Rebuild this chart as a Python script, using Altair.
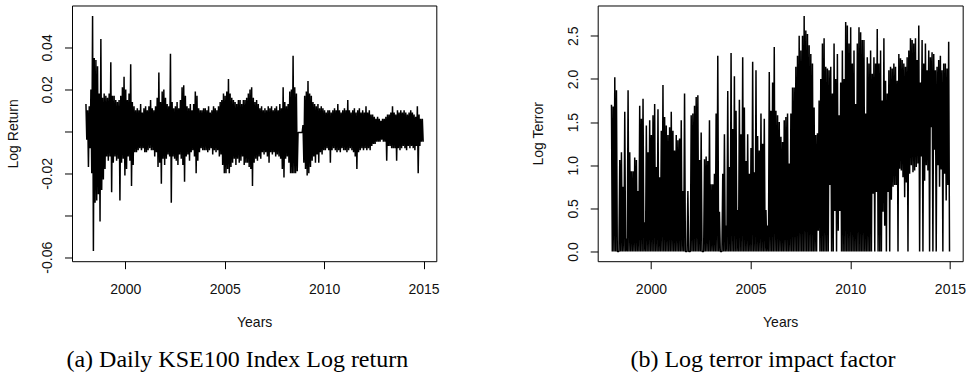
import altair as alt
import pandas as pd

# ---- Panel (a): daily KSE100 log return, monthly upper / lower extremes (1998-2014) ----
ret_hi = [
    0.013, 0.010, 0.012, 0.020, 0.055, 0.035, 0.034, 0.031, 0.018, 0.044, 0.016, 0.018,  # 1998
    0.017, 0.016, 0.018, 0.033, 0.017, 0.017, 0.015, 0.014, 0.015, 0.017, 0.021, 0.026,  # 1999
    0.020, 0.015, 0.018, 0.032, 0.014, 0.012, 0.010, 0.011, 0.010, 0.013, 0.009, 0.011,  # 2000
    0.012, 0.010, 0.012, 0.015, 0.011, 0.010, 0.012, 0.016, 0.028, 0.014, 0.019, 0.020,  # 2001
    0.016, 0.013, 0.012, 0.037, 0.014, 0.011, 0.012, 0.014, 0.011, 0.015, 0.021, 0.022,  # 2002
    0.017, 0.012, 0.011, 0.013, 0.010, 0.013, 0.019, 0.017, 0.011, 0.010, 0.010, 0.011,  # 2003
    0.011, 0.010, 0.012, 0.009, 0.010, 0.012, 0.011, 0.010, 0.012, 0.014, 0.015, 0.018,  # 2004
    0.017, 0.019, 0.025, 0.018, 0.016, 0.015, 0.014, 0.013, 0.015, 0.015, 0.013, 0.015,  # 2005
    0.015, 0.016, 0.018, 0.020, 0.021, 0.016, 0.014, 0.015, 0.013, 0.011, 0.012, 0.010,  # 2006
    0.011, 0.010, 0.012, 0.011, 0.012, 0.010, 0.011, 0.012, 0.010, 0.013, 0.011, 0.021,  # 2007
    0.014, 0.012, 0.013, 0.019, 0.020, 0.036, 0.021, 0.018, -0.0005, -0.0005, -0.0005, 0.003,  # 2008
    0.017, 0.019, 0.024, 0.018, 0.017, 0.014, 0.013, 0.012, 0.013, 0.011, 0.012, 0.011,  # 2009
    0.010, 0.009, 0.010, 0.010, 0.009, 0.010, 0.011, 0.010, 0.013, 0.010, 0.009, 0.010,  # 2010
    0.011, 0.010, 0.015, 0.010, 0.009, 0.010, 0.011, 0.009, 0.010, 0.011, 0.009, 0.010,  # 2011
    0.009, 0.012, 0.009, 0.010, 0.008, 0.008, 0.007, 0.006, 0.007, 0.006, 0.005, 0.006,  # 2012
    0.006, 0.007, 0.008, 0.008, 0.009, 0.012, 0.009, 0.008, 0.010, 0.009, 0.010, 0.009,  # 2013
    0.010, 0.009, 0.008, 0.009, 0.010, 0.009, 0.008, 0.007, 0.012, 0.008, 0.006, 0.006,  # 2014
]
ret_lo = [
    -0.004, -0.017, -0.008, -0.020, -0.057, -0.034, -0.033, -0.030, -0.043, -0.028, -0.023, -0.018,  # 1998
    -0.012, -0.014, -0.012, -0.029, -0.015, -0.012, -0.014, -0.013, -0.033, -0.015, -0.013, -0.021,  # 1999
    -0.018, -0.012, -0.014, -0.026, -0.016, -0.010, -0.010, -0.009, -0.008, -0.009, -0.008, -0.010,  # 2000
    -0.010, -0.009, -0.008, -0.009, -0.009, -0.012, -0.010, -0.017, -0.015, -0.025, -0.013, -0.016,  # 2001
    -0.013, -0.011, -0.012, -0.034, -0.012, -0.013, -0.014, -0.016, -0.011, -0.013, -0.016, -0.024,  # 2002
    -0.012, -0.011, -0.014, -0.010, -0.009, -0.012, -0.020, -0.014, -0.010, -0.008, -0.009, -0.009,  # 2003
    -0.009, -0.010, -0.009, -0.008, -0.011, -0.009, -0.010, -0.009, -0.012, -0.011, -0.016, -0.020,  # 2004
    -0.020, -0.018, -0.020, -0.017, -0.015, -0.013, -0.016, -0.013, -0.015, -0.014, -0.012, -0.016,  # 2005
    -0.015, -0.015, -0.017, -0.018, -0.026, -0.015, -0.013, -0.014, -0.012, -0.013, -0.010, -0.011,  # 2006
    -0.010, -0.012, -0.015, -0.010, -0.011, -0.010, -0.012, -0.011, -0.012, -0.013, -0.018, -0.022,  # 2007
    -0.013, -0.012, -0.015, -0.020, -0.020, -0.020, -0.020, -0.019, -0.0005, -0.0005, -0.0005, -0.015,  # 2008
    -0.018, -0.021, -0.020, -0.017, -0.014, -0.012, -0.015, -0.011, -0.015, -0.010, -0.011, -0.009,  # 2009
    -0.009, -0.008, -0.009, -0.015, -0.009, -0.008, -0.009, -0.010, -0.009, -0.010, -0.008, -0.009,  # 2010
    -0.009, -0.010, -0.009, -0.008, -0.009, -0.010, -0.012, -0.018, -0.010, -0.009, -0.008, -0.009,  # 2011
    -0.008, -0.009, -0.008, -0.009, -0.007, -0.006, -0.006, -0.005, -0.005, -0.005, -0.004, -0.005,  # 2012
    -0.005, -0.014, -0.007, -0.007, -0.008, -0.008, -0.008, -0.014, -0.008, -0.009, -0.008, -0.007,  # 2013
    -0.008, -0.009, -0.007, -0.008, -0.007, -0.008, -0.009, -0.007, -0.020, -0.007, -0.005, -0.005,  # 2014
]

# ---- Panel (b): log terror impact factor, monthly upper / lower extremes ----
terror_hi = [
    1.70, 1.68, 2.02, 1.87, 0.00, 1.06, 1.15, 0.75, 1.62, 0.15, 1.87, 1.15,  # 1998
    0.93, 0.93, 1.09, 1.06, 0.70, 1.69, 1.54, 1.77, 0.34, 1.46, 1.15, 1.52,  # 1999
    1.35, 1.58, 1.71, 0.98, 1.65, 0.86, 1.40, 1.93, 1.56, 1.46, 1.35, 1.44,  # 2000
    1.62, 1.40, 1.17, 1.35, 1.29, 1.31, 1.52, 0.70, 1.83, 0.00, 0.70, 0.00,  # 2001
    1.58, 1.60, 1.69, 1.79, 1.81, 1.06, 1.38, 0.00, 1.07, 1.10, 1.05, 1.52,  # 2002
    0.78, 0.78, 0.90, 1.60, 2.27, 0.46, 0.00, 0.90, 1.36, 0.30, 1.86, 0.98,  # 2003
    2.30, 1.42, 2.03, 1.63, 0.48, 1.76, 1.36, 2.25, 1.67, 1.05, 1.36, 0.90,  # 2004
    1.20, 2.20, 0.92, 2.10, 1.34, 1.17, 1.60, 1.25, 1.54, 0.48, 0.30, 2.08,  # 2005
    1.63, 1.96, 2.37, 1.63, 1.58, 1.50, 1.33, 1.27, 1.52, 1.56, 1.60, 1.02,  # 2006
    1.60, 1.90, 1.90, 2.14, 2.27, 2.50, 2.33, 2.50, 2.73, 2.56, 2.52, 2.39,  # 2007
    2.29, 2.18, 1.67, 1.35, 1.37, 1.75, 2.00, 2.41, 2.47, 2.14, 2.12, 2.10,  # 2008
    2.14, 1.83, 2.41, 2.00, 2.29, 1.58, 1.96, 2.33, 2.00, 2.66, 2.62, 2.41,  # 2009
    2.60, 2.18, 2.33, 1.71, 2.41, 2.60, 2.54, 2.45, 2.45, 1.60, 2.25, 2.18,  # 2010
    2.33, 2.06, 2.25, 2.18, 2.58, 2.18, 2.33, 1.75, 2.47, 1.98, 1.83, 2.10,  # 2011
    2.14, 2.12, 2.18, 2.14, 1.98, 2.29, 2.24, 2.22, 2.18, 2.14, 2.25, 2.33,  # 2012
    2.47, 2.45, 2.41, 2.47, 2.22, 2.62, 1.96, 2.45, 2.18, 2.41, 2.10, 2.33,  # 2013
    2.25, 2.31, 2.29, 2.10, 2.14, 2.22, 2.27, 2.10, 2.18, 2.18, 2.12, 2.43,  # 2014
]
terror_lo = [
    0, 0, 0, 0, 0, 0, 0, 0, 0, 0, 0, 0,  # 1998
    0, 0, 0, 0, 0, 0, 0, 0, 0, 0, 0, 0,  # 1999
    0, 0, 0, 0, 0, 0, 0, 0, 0, 0, 0, 0,  # 2000
    0, 0, 0, 0, 0, 0, 0, 0, 0, 0, 0, 0,  # 2001
    0, 0, 0, 0, 0, 0, 0, 0, 0, 0, 0, 0,  # 2002
    0, 0, 0, 0, 0, 0, 0, 0, 0, 0, 0, 0,  # 2003
    0, 0, 0, 0, 0, 0, 0, 0, 0, 0, 0, 0,  # 2004
    0, 0, 0, 0, 0, 0, 0, 0, 0, 0, 0, 0,  # 2005
    0, 0, 0, 0, 0, 0, 0, 0, 0, 0, 0, 0,  # 2006
    0, 0, 0, 0, 0, 0, 0, 0, 0, 0, 0, 0,  # 2007
    0, 0, 0, 0, 0.24, 0, 0, 0, 0, 0, 0, 0.77,  # 2008
    0, 0, 0.47, 0, 0.24, 0.47, 0, 0, 0, 0, 0, 0,  # 2009
    0, 0, 0, 0, 0, 0, 0, 0, 0, 0, 0, 0,  # 2010
    0, 0.67, 0, 0.69, 0, 0, 0, 0.46, 0.30, 0, 0.69, 0,  # 2011
    0.60, 0.75, 0.77, 0.77, 0, 0.96, 0.94, 0.86, 0.63, 0.80, 0, 0.90,  # 2012
    1.00, 0.92, 0.94, 0.98, 1.02, 0, 1.10, 0, 0.82, 1.00, 0.94, 0,  # 2013
    1.44, 0, 1.18, 0, 1.00, 0.75, 0.95, 0, 0.90, 0.59, 0.77, 0,  # 2014
]

start_year = 1998
year_ticks = [2000, 2005, 2010, 2015]
ret_ticks = [0.04, 0.02, 0.0, -0.02, -0.04, -0.06]
terror_ticks = [0.0, 0.5, 1.0, 1.5, 2.0, 2.5]
caption_a = "(a) Daily KSE100 Index Log return"
caption_b = "(b) Log terror impact factor"


def series_frame(hi, lo):
    rows = []
    for k, (h, l) in enumerate(zip(hi, lo)):
        rows.append({"t": start_year + (k + 0.25) / 12, "v": h, "o": 2 * k})
        rows.append({"t": start_year + (k + 0.75) / 12, "v": l, "o": 2 * k + 1})
    return pd.DataFrame(rows)


W1, W2, H = 364.3, 365.0, 255.7
FONT = "Liberation Sans"
INK = "#111111"


def x_axis(w):
    return alt.Axis(
        values=year_ticks, format="d", title="Years", grid=False, domain=False,
        tickSize=7.5, tickColor="black", tickWidth=1,
        labelFont=FONT, labelFontSize=14, labelColor=INK,
        labelBaseline="alphabetic", labelPadding=24.5,
        titleFont=FONT, titleFontSize=14, titleFontWeight="normal", titleColor=INK,
        titleBaseline="alphabetic", titleAlign="center", titleX=w / 2, titleY=65.3,
    )


def y_axis(title, values, label_expr=None, fmt=None):
    kw = dict(
        values=values, title=title, grid=False, domain=False,
        tickSize=7.5, tickColor="black", tickWidth=1,
        labelFont=FONT, labelFontSize=14, labelColor=INK,
        labelAngle=270, labelAlign="center", labelBaseline="alphabetic",
        labelPadding=13, labelOverlap=False,
        titleFont=FONT, titleFontSize=14, titleFontWeight="normal", titleColor=INK,
        titleAngle=270, titleAlign="center", titleBaseline="alphabetic",
        titleX=-54.7, titleY=H / 2,
    )
    if label_expr is not None:
        kw["labelExpr"] = label_expr
    if fmt is not None:
        kw["format"] = fmt
    return alt.Axis(**kw)


ret_label_expr = (
    "datum.value == 0.04 ? '0.04' : datum.value == 0.02 ? '0.02' : "
    "datum.value == -0.02 ? '-0.02' : datum.value == -0.06 ? '-0.06' : ''"
)

line_a = alt.Chart(series_frame(ret_hi, ret_lo)).mark_line(
    color="black", strokeWidth=1.5, strokeJoin="bevel", clip=True
).encode(
    x=alt.X("t:Q", scale=alt.Scale(domain=[1997.32, 2015.64], nice=False, zero=False), axis=x_axis(W1)),
    y=alt.Y("v:Q", scale=alt.Scale(domain=[-0.0619, 0.0600], nice=False, zero=False),
            axis=y_axis("Log Return", ret_ticks, label_expr=ret_label_expr)),
    order="o:Q",
)
cap_a = alt.Chart(pd.DataFrame({"caption": [caption_a]})).mark_text(
    font="Liberation Serif", fontSize=24, color="black", align="center", baseline="alphabetic"
).encode(text="caption:N", x=alt.value(165.3), y=alt.value(362))

line_b = alt.Chart(series_frame(terror_hi, terror_lo)).mark_line(
    color="black", strokeWidth=1.5, strokeJoin="bevel", clip=True
).encode(
    x=alt.X("t:Q", scale=alt.Scale(domain=[1997.33, 2015.64], nice=False, zero=False), axis=x_axis(W2)),
    y=alt.Y("v:Q", scale=alt.Scale(domain=[-0.112, 2.851], nice=False, zero=False),
            axis=y_axis("Log Terror", terror_ticks, fmt=".1f")),
    order="o:Q",
)
cap_b = alt.Chart(pd.DataFrame({"caption": [caption_b]})).mark_text(
    font="Liberation Serif", fontSize=24, color="black", align="center", baseline="alphabetic"
).encode(text="caption:N", x=alt.value(165.3), y=alt.value(362))

left = alt.layer(line_a, cap_a).properties(width=W1, height=H)
right = alt.layer(line_b, cap_b).properties(width=W2, height=H)

chart = alt.hconcat(left, right, spacing=160.7, bounds="flush").properties(
    padding={"left": 5, "top": 4.5, "right": 0, "bottom": 0},
    background="white",
).configure_view(stroke="black", strokeWidth=1)

chart.save("out.html", embed_options={"renderer": "svg", "actions": False})
